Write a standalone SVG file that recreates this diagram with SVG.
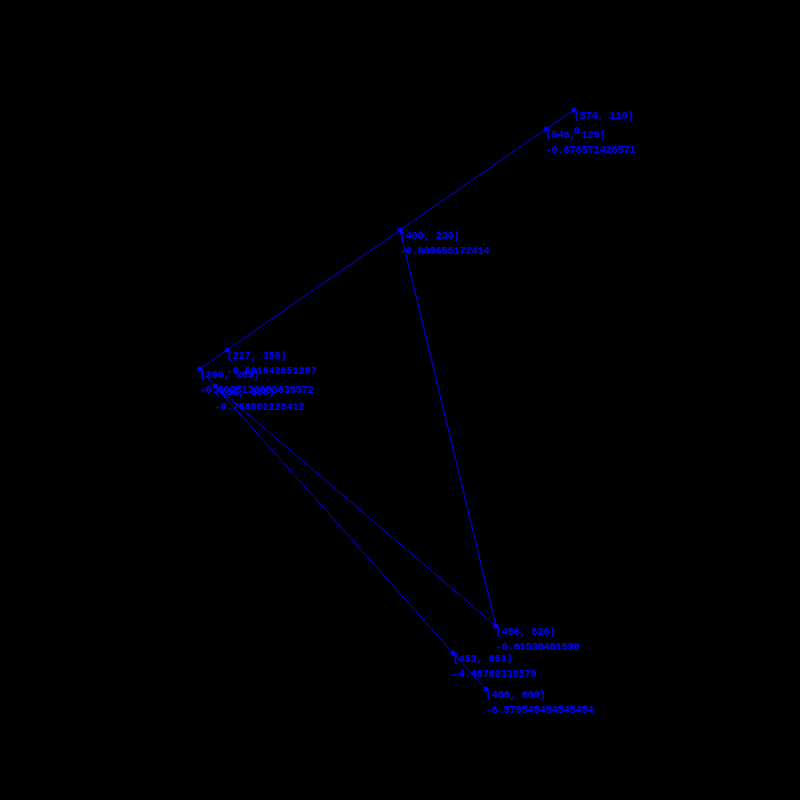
<svg xmlns="http://www.w3.org/2000/svg" width="800" height="800" viewBox="0 0 800 800">
<style>
.bg{fill:#000000}
.edge{stroke:#0000ff;stroke-width:1;fill:none}
.dot{fill:#0000ff}
.lbl{fill:#0000ff;font-family:"Liberation Mono","DejaVu Sans Mono",monospace;font-size:10px;font-weight:bold}
</style>
<rect class="bg" x="0" y="0" width="800" height="800"/>
<g id="connectors">
<line class="edge" x1="574" y1="110" x2="546" y2="129"/>
<line class="edge" x1="546" y1="129" x2="400" y2="230"/>
<line class="edge" x1="400" y1="230" x2="227" y2="350"/>
<line class="edge" x1="227" y1="350" x2="200" y2="369"/>
<line class="edge" x1="200" y1="369" x2="215" y2="386"/>
<line class="edge" x1="215" y1="386" x2="453" y2="653"/>
<line class="edge" x1="453" y1="653" x2="486" y2="689"/>
<line class="edge" x1="215" y1="386" x2="496" y2="626"/>
<line class="edge" x1="400" y1="230" x2="496" y2="626"/>
</g>
<g id="p574_110"><circle class="dot" cx="574" cy="110" r="2.5"/><text class="lbl" x="574" y="119">(574, 110)</text><text class="lbl" x="574" y="134">0</text></g>
<g id="p546_129"><circle class="dot" cx="546" cy="129" r="2.5"/><text class="lbl" x="546" y="138">(546, 129)</text><text class="lbl" x="546" y="153">-0.678571428571</text></g>
<g id="p400_230"><circle class="dot" cx="400" cy="230" r="2.5"/><text class="lbl" x="400" y="239">(400, 230)</text><text class="lbl" x="400" y="254">-0.689655172414</text></g>
<g id="p227_350"><circle class="dot" cx="227" cy="350" r="2.5"/><text class="lbl" x="227" y="359">(227, 350)</text><text class="lbl" x="227" y="374">-0.691642651297</text></g>
<g id="p200_369"><circle class="dot" cx="200" cy="369" r="2.5"/><text class="lbl" x="200" y="378">(200, 369)</text><text class="lbl" x="200" y="393">-0.6925133689839572</text></g>
<g id="p215_386"><circle class="dot" cx="215" cy="386" r="2.5"/><text class="lbl" x="215" y="395">(215, 386)</text><text class="lbl" x="215" y="410">-0.768802228412</text></g>
<g id="p496_626"><circle class="dot" cx="496" cy="626" r="2.5"/><text class="lbl" x="496" y="635">(496, 626)</text><text class="lbl" x="496" y="650">-6.61538461538</text></g>
<g id="p453_653"><circle class="dot" cx="453" cy="653" r="2.5"/><text class="lbl" x="453" y="662">(453, 653)</text><text class="lbl" x="453" y="677">-4.48760330579</text></g>
<g id="p486_689"><circle class="dot" cx="486" cy="689" r="2.5"/><text class="lbl" x="486" y="698">(486, 689)</text><text class="lbl" x="486" y="713">-6.579545454545454</text></g>
</svg>
